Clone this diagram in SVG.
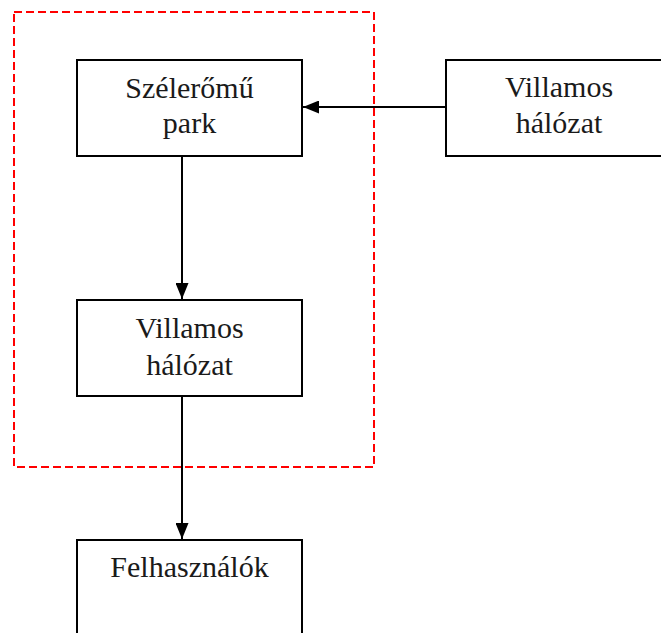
<svg xmlns="http://www.w3.org/2000/svg" width="661" height="633" viewBox="0 0 661 633">
<defs>
<marker id="arr" viewBox="0 0 16 13" refX="16" refY="6.5" markerWidth="16" markerHeight="13" markerUnits="userSpaceOnUse" orient="auto">
<path d="M0,0 L16,6.5 L0,13 Z" fill="#000"/>
</marker>
<style>
.box{fill:#fff;stroke:#000;stroke-width:2}
.lbl{font-family:"Liberation Serif","DejaVu Serif",serif;font-size:30px;fill:#1a1a1a;text-anchor:middle}
.con{stroke:#000;stroke-width:2;fill:none}
</style>
</defs>
<rect width="661" height="633" fill="#fff"/>
<rect id="boundary" x="14" y="12" width="360" height="455" fill="none" stroke="#ff0000" stroke-width="2" stroke-dasharray="8,4"/>
<g id="connectors">
<line class="con" x1="446" y1="107" x2="303" y2="107" marker-end="url(#arr)"/>
<line class="con" x1="182" y1="156" x2="182" y2="299" marker-end="url(#arr)"/>
<line class="con" x1="182" y1="396" x2="182" y2="539" marker-end="url(#arr)"/>
</g>
<g id="szeleromu">
<rect class="box" x="77" y="60" width="225" height="96"/>
<text class="lbl" x="189.5" y="98">Szélerőmű</text>
<text class="lbl" x="189.5" y="133">park</text>
</g>
<g id="villamos-kulso">
<rect class="box" x="446" y="60" width="226" height="96"/>
<text class="lbl" x="559" y="97">Villamos</text>
<text class="lbl" x="559" y="133">hálózat</text>
</g>
<g id="villamos-belso">
<rect class="box" x="77" y="300" width="225" height="96"/>
<text class="lbl" x="189.5" y="338">Villamos</text>
<text class="lbl" x="189.5" y="375">hálózat</text>
</g>
<g id="felhasznalok">
<rect class="box" x="77" y="540" width="225" height="110"/>
<text class="lbl" x="189.5" y="577">Felhasználók</text>
</g>
</svg>
